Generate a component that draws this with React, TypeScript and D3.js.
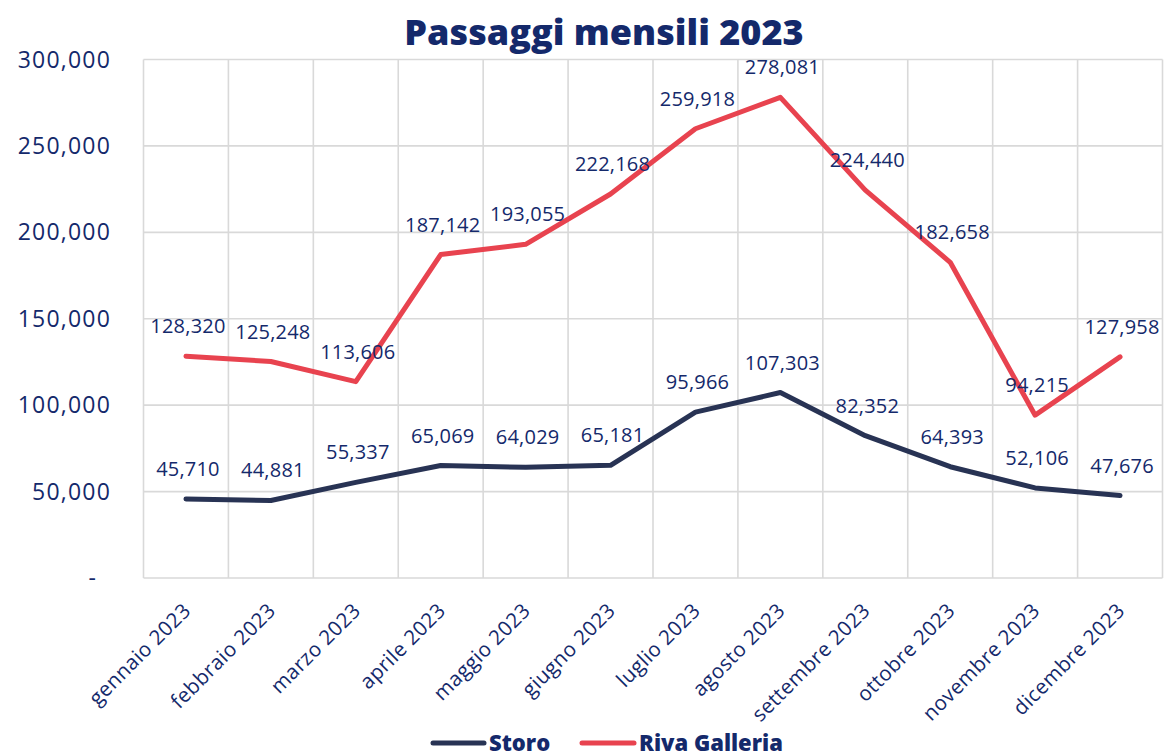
import * as d3 from "d3";
import React from "react";

const months = [
  "gennaio 2023", "febbraio 2023", "marzo 2023", "aprile 2023",
  "maggio 2023", "giugno 2023", "luglio 2023", "agosto 2023",
  "settembre 2023", "ottobre 2023", "novembre 2023", "dicembre 2023",
];
const storo = [45710, 44881, 55337, 65069, 64029, 65181, 95966, 107303, 82352, 64393, 52106, 47676];
const riva = [128320, 125248, 113606, 187142, 193055, 222168, 259918, 278081, 224440, 182658, 94215, 127958];
const yTicks = [0, 50000, 100000, 150000, 200000, 250000, 300000];

const W = 1166;
const H = 756;
const margin = { left: 143.5, right: 3.5, top: 59.5, bottom: 178 };
const textColor = "#14296b";
const font = "'Open Sans', sans-serif";

const series = [
  { name: "Storo", values: storo, color: "#283354" },
  { name: "Riva Galleria", values: riva, color: "#e8434f" },
];

export default function App() {
  const x = d3.scaleBand().domain(months).range([margin.left, W - margin.right]);
  const y = d3.scaleLinear().domain([0, 300000]).range([H - margin.bottom, margin.top]);
  const fmt = d3.format(",");
  const cx = (m: string) => (x(m) ?? 0) + x.bandwidth() / 2;
  const line = d3.line<number>()
    .x((_, i) => cx(months[i]))
    .y((d) => y(d));

  const bounds = [...months.map((m) => x(m) ?? 0), W - margin.right];

  return (
    <svg width={W} height={H} style={{ position: "absolute", left: 0, top: 0, background: "#fff" }}>
      {/* title */}
      <text x={604} y={45} textAnchor="middle" fontFamily={font} fontWeight={800}
        fontSize={36} fill={textColor}>Passaggi mensili 2023</text>

      {/* grid */}
      <g stroke="#d9d9d9" strokeWidth={1.6}>
        {yTicks.map((t) => (
          <line key={t} x1={margin.left} x2={W - margin.right} y1={y(t)} y2={y(t)} />
        ))}
        {bounds.map((b, i) => (
          <line key={i} x1={b} x2={b} y1={y(300000)} y2={y(0)} />
        ))}
      </g>

      {/* y axis labels */}
      <g fontFamily={font} fontSize={23} fill={textColor} textAnchor="end" letterSpacing={1.2}>
        {yTicks.map((t) => (
          <text key={t} x={t === 0 ? 97 : 111} y={y(t)} dy="0.35em">
            {t === 0 ? "-" : fmt(t)}
          </text>
        ))}
      </g>

      {/* x axis labels */}
      <g fontFamily={font} fontSize={20.5} fill={textColor} textAnchor="end" letterSpacing={0.4}>
        {months.map((m) => (
          <text key={m} transform={`translate(${cx(m) + 6},${y(0) + 34}) rotate(-45)`}>{m}</text>
        ))}
      </g>

      {/* lines */}
      {series.map((s) => (
        <path key={s.name} d={line(s.values) ?? ""} fill="none" stroke={s.color}
          strokeWidth={5} strokeLinejoin="round" strokeLinecap="round" />
      ))}

      {/* data labels */}
      <g fontFamily={font} fontSize={20} fill={textColor} textAnchor="middle" letterSpacing={0.2}>
        {series.map((s) =>
          s.values.map((v, i) => (
            <text key={s.name + i} x={cx(months[i]) + 2} y={y(v) - 23}>{fmt(v)}</text>
          ))
        )}
      </g>

      {/* legend */}
      <g fontFamily={font} fontWeight={800} fontSize={22} fill={textColor}>
        <line x1={433} x2={484} y1={743} y2={743} stroke={series[0].color} strokeWidth={5} strokeLinecap="round" />
        <text x={489} y={751}>Storo</text>
        <line x1={582} x2={634} y1={743} y2={743} stroke={series[1].color} strokeWidth={5} strokeLinecap="round" />
        <text x={639} y={751}>Riva Galleria</text>
      </g>
    </svg>
  );
}
